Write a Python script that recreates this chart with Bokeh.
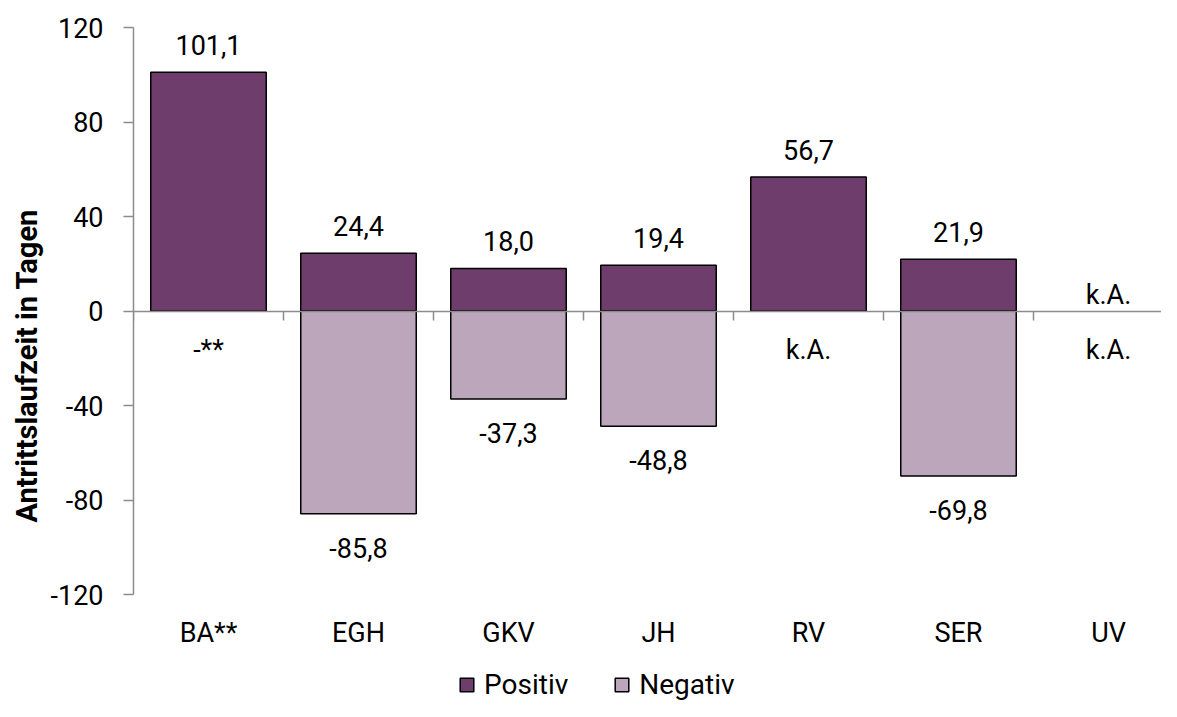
from bokeh.plotting import figure
from bokeh.models import (ColumnDataSource, Range1d, FixedTicker, LinearAxis,
                          Legend, LegendItem, Title)
from bokeh.core.properties import value
from bokeh.embed import file_html
from bokeh.resources import INLINE

# ---------------- data ----------------
categories = ["BA**", "EGH", "GKV", "JH", "RV", "SER", "UV"]
positiv = [101.1, 24.4, 18.0, 19.4, 56.7, 21.9, None]
negativ = [None, -85.8, -37.3, -48.8, None, -69.8, None]
positiv_fehlt = ["", "", "", "", "", "", "k.A."]
negativ_fehlt = ["-**", "", "", "", "k.A.", "", "k.A."]
y_ticks = [-120, -80, -40, 0, 40, 80, 120]
y_title = "Antrittslaufzeit in Tagen"
series_names = ["Positiv", "Negativ"]

# ---------------- style ----------------
FONT = "Roboto"
DARK = "#6F3D6B"
LIGHT = "#BBA6BB"
AXIS = "#8C8C8C"
FS = "27px"

xs = list(range(1, len(categories) + 1))


def fmt(v):
    return f"{v:.1f}".replace(".", ",")


pos_src = ColumnDataSource(dict(
    x=[x for x, v in zip(xs, positiv) if v is not None],
    top=[v for v in positiv if v is not None]))
neg_src = ColumnDataSource(dict(
    x=[x for x, v in zip(xs, negativ) if v is not None],
    top=[v for v in negativ if v is not None]))

lx, ly, lt, lo = [], [], [], []
for x, v, m in zip(xs, positiv, positiv_fehlt):
    lx.append(x)
    ly.append(v if v is not None else 0)
    lt.append(fmt(v) if v is not None else m)
    lo.append(-27 if v is not None else -16)
for x, v, m in zip(xs, negativ, negativ_fehlt):
    lx.append(x)
    ly.append(v if v is not None else 0)
    lt.append(fmt(v) if v is not None else m)
    lo.append(34 if v is not None else 39)
lbl_src = ColumnDataSource(dict(x=lx, y=ly, t=lt, off=lo))

# ---------------- layout (pixels) ----------------
W, H = 1161, 701
LEFT = 133
PX_TOP, PX_BOT = 27, 594          # pixel rows of the top / bottom y tick
frame_w = W - LEFT
slot = 150.0
ppu = (PX_BOT - PX_TOP) / (y_ticks[-1] - y_ticks[0])
y_end = y_ticks[-1] + PX_TOP / ppu
y_start = y_ticks[0] - (H - PX_BOT) / ppu

p = figure(width=W, height=H, output_backend="svg", toolbar_location=None,
           x_range=Range1d(0.5, 0.5 + frame_w / slot),
           y_range=Range1d(y_start, y_end),
           x_axis_location=None,
           min_border_left=LEFT, min_border_top=0,
           min_border_bottom=0, min_border_right=0)
p.outline_line_color = None
p.xgrid.visible = False
p.ygrid.visible = False
p.background_fill_color = "white"

rpos = p.vbar(x="x", top="top", bottom=0, width=0.77, source=pos_src,
              fill_color=DARK, line_color="black", line_width=1.5)
rneg = p.vbar(x="x", top="top", bottom=0, width=0.77, source=neg_src,
              fill_color=LIGHT, line_color="black", line_width=1.5)

p.text(x="x", y="y", text="t", y_offset="off", source=lbl_src,
       text_align="center", text_baseline="middle",
       text_font=value(FONT), text_font_size=FS, text_color="black")

# category label axis, placed at the bottom of the value scale
cat_axis = LinearAxis(fixed_location=y_ticks[0],
                      ticker=FixedTicker(ticks=xs),
                      major_label_overrides={x: c for x, c in zip(xs, categories)},
                      axis_line_color=None, major_tick_line_color=None,
                      minor_tick_line_color=None, major_label_standoff=16,
                      major_label_text_font=FONT, major_label_text_font_size=FS,
                      major_label_text_color="black")
p.add_layout(cat_axis, "below")

# zero line axis with separator ticks
zero_axis = LinearAxis(fixed_location=0,
                       ticker=FixedTicker(ticks=[x - 0.5 for x in xs] + [xs[-1] + 0.5]),
                       axis_line_color=AXIS, axis_line_width=1.5,
                       major_tick_line_color=AXIS, major_tick_line_width=1.5,
                       major_tick_in=0, major_tick_out=9,
                       minor_tick_line_color=None,
                       major_label_standoff=0,
                       major_label_text_font_size="1px",
                       major_label_text_alpha=0)
p.add_layout(zero_axis, "below")

ya = p.yaxis[0]
ya.bounds = (y_ticks[0], y_ticks[-1])
ya.ticker = FixedTicker(ticks=y_ticks)
ya.major_label_overrides = {t: str(t) for t in y_ticks}
ya.axis_line_color = AXIS
ya.axis_line_width = 1.5
ya.major_tick_line_color = AXIS
ya.major_tick_line_width = 1.5
ya.major_tick_in = 0
ya.major_tick_out = 10
ya.minor_tick_line_color = None
ya.major_label_standoff = 20
ya.major_label_text_font = FONT
ya.major_label_text_font_size = FS
ya.major_label_text_color = "black"

ytitle = Title(text=y_title, align="left", offset=179, vertical_align="top",
               standoff=4, text_font=FONT, text_font_style="bold",
               text_font_size="29px", text_color="black")
p.add_layout(ytitle, "left")

legend = Legend(items=[LegendItem(label=series_names[0], renderers=[rpos]),
                       LegendItem(label=series_names[1], renderers=[rneg])],
                orientation="horizontal", location=(325, 0),
                glyph_width=17, glyph_height=17, label_standoff=9, spacing=45,
                padding=0, margin=0, border_line_color=None,
                background_fill_alpha=0, label_text_font=FONT,
                label_text_font_size="28px", label_text_color="black")
p.add_layout(legend)

open("out.html", "w").write(file_html(p, INLINE))
